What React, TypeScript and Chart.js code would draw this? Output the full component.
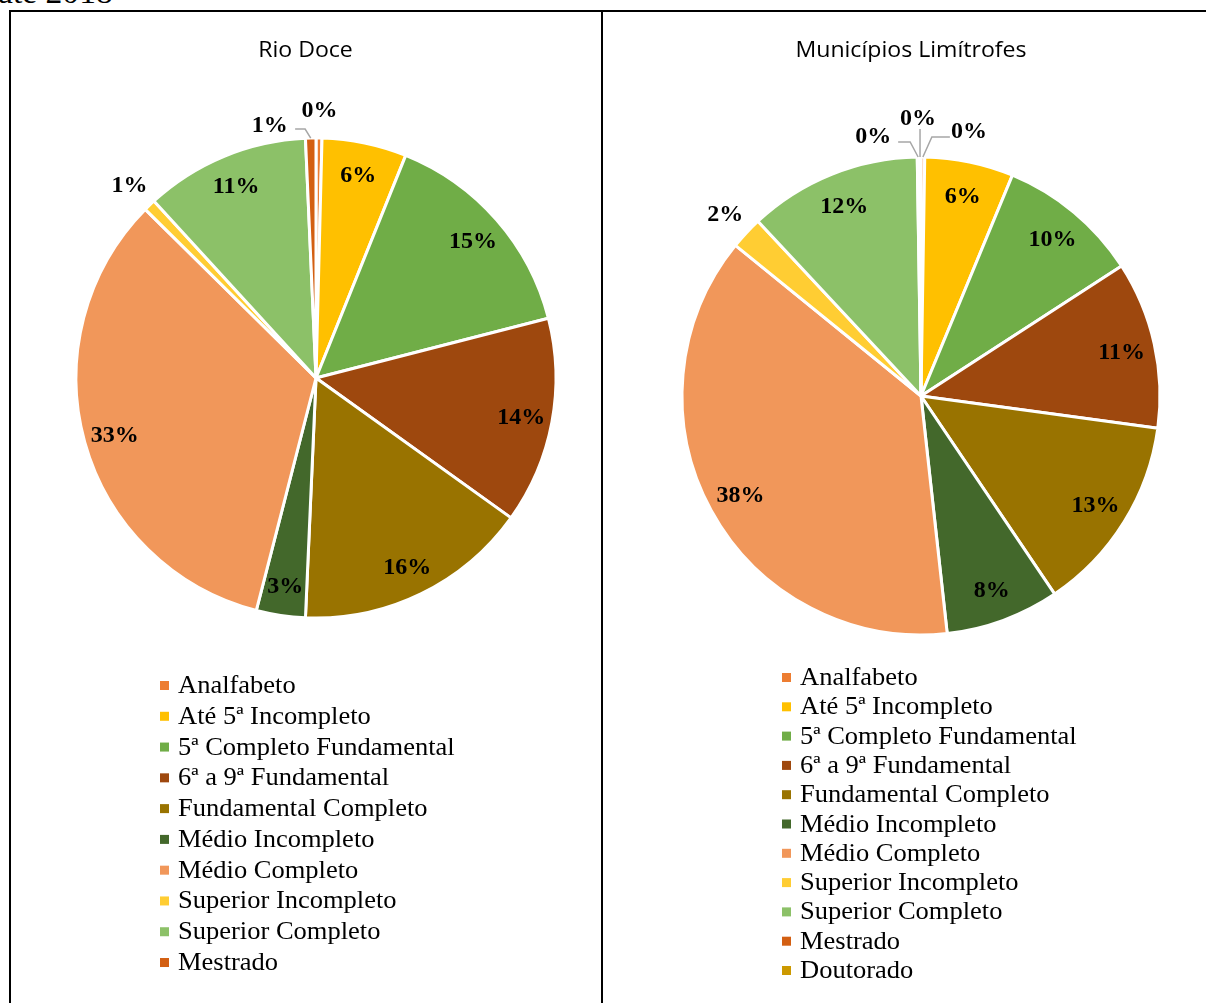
import React, { useEffect, useRef } from 'react';
import { Chart, registerables } from 'chart.js';

Chart.register(...registerables);

// ---------- DATA ----------
const categoriesRioDoce = [
  'Analfabeto',
  'Até 5ª Incompleto',
  '5ª Completo Fundamental',
  '6ª a 9ª Fundamental',
  'Fundamental Completo',
  'Médio Incompleto',
  'Médio Completo',
  'Superior Incompleto',
  'Superior Completo',
  'Mestrado',
];
const categoriesLimitrofes = [...categoriesRioDoce, 'Doutorado'];

const valuesRioDoce = [0.4, 5.7, 14.9, 13.9, 15.8, 3.3, 33.4, 0.8, 11.1, 0.7];
const valuesLimitrofes = [0.25, 6.0, 9.6, 11.3, 13.4, 7.7, 37.6, 2.2, 11.7, 0.12, 0.13];

const titleRioDoce = 'Rio Doce';
const titleLimitrofes = 'Municípios Limítrofes';

const colors = [
  '#ED7D31', '#FFC000', '#70AD47', '#9E480E', '#997300', '#43682B',
  '#F1975A', '#FFCD33', '#8CC168', '#D35F12', '#CC9900',
];

// ---------- STYLE ----------
const TEXT_SX = 1.06;
const LABEL_SX = 1.0;
const LABEL_FONT = 'bold 24px "Liberation Serif"';
const LEGEND_FONT = '25px "Liberation Serif"';
const TITLE_FONT = '22px "Open Sans"';
const BORDER = 3;

type Leader = { label: [number, number]; path: [number, number][] };

function drawScaledText(ctx: CanvasRenderingContext2D, text: string, x: number, y: number, align: CanvasTextAlign, sx: number) {
  ctx.save();
  ctx.translate(x, y);
  ctx.scale(sx, 1);
  ctx.textAlign = align;
  ctx.textBaseline = 'alphabetic';
  ctx.fillText(text, 0, 0);
  ctx.restore();
}

const pieTextPlugin = {
  id: 'pieText',
  afterDatasetsDraw(chart: any, _args: any, opts: any) {
    const ctx: CanvasRenderingContext2D = chart.ctx;
    const meta = chart.getDatasetMeta(0);
    const ds = chart.data.datasets[0];
    const data = ds.data as number[];
    const total = data.reduce((a, b) => a + b, 0);
    ctx.save();
    // title
    ctx.fillStyle = '#000';
    ctx.font = TITLE_FONT;
    drawScaledText(ctx, opts.title, opts.titleX, opts.titleY, 'center', opts.titleSx);

    // data labels
    ctx.font = LABEL_FONT;
    meta.data.forEach((arc: any, i: number) => {
      const p = arc.getProps(['x', 'y', 'startAngle', 'endAngle', 'outerRadius'], true);
      const mid = (p.startAngle + p.endAngle) / 2;
      const cos = Math.cos(mid);
      const sin = Math.sin(mid);
      const pct = Math.round((data[i] / total) * 100) + '%';
      const mode = opts.modes[i];
      let lx: number, ly: number;
      if (mode === 'in') {
        lx = p.x + cos * p.outerRadius * opts.inFactor;
        ly = p.y + sin * p.outerRadius * opts.inFactor;
      } else if (mode === 'out') {
        lx = p.x + cos * p.outerRadius * opts.outFactor;
        ly = p.y + sin * p.outerRadius * opts.outFactor;
      } else {
        const ox = p.x + cos * p.outerRadius;
        const oy = p.y + sin * p.outerRadius;
        const ld: Leader = opts.leaders[i];
        ctx.save();
        ctx.strokeStyle = '#A6A6A6';
        ctx.lineWidth = 1.5;
        ctx.beginPath();
        ctx.moveTo(ox, oy);
        ld.path.forEach(([dx, dy]) => ctx.lineTo(ox + dx, oy + dy));
        ctx.stroke();
        ctx.restore();
        lx = ox + ld.label[0];
        ly = oy + ld.label[1];
      }
      ctx.fillStyle = '#000';
      drawScaledText(ctx, pct, lx, ly + 8, 'center', LABEL_SX);
    });

    // legend
    ctx.font = LEGEND_FONT;
    const labels = chart.data.labels as string[];
    labels.forEach((lab: string, i: number) => {
      const by = opts.legendY + i * opts.legendStep;
      ctx.fillStyle = (ds.backgroundColor as string[])[i];
      ctx.fillRect(opts.legendBoxX, by - 12, 9, 9);
      ctx.fillStyle = '#000';
      drawScaledText(ctx, lab, opts.legendTextX, by, 'left', TEXT_SX);
    });
    ctx.restore();
  },
};

type PieProps = {
  labels: string[];
  values: number[];
  width: number;
  height: number;
  cx: number;
  cy: number;
  r: number;
  textOpts: any;
};

function PiePanel({ labels, values, width, height, cx, cy, r, textOpts }: PieProps) {
  const ref = useRef<HTMLCanvasElement | null>(null);
  useEffect(() => {
    if (!ref.current) return;
    const half = r + BORDER / 2;
    const chart = new Chart(ref.current, {
      type: 'pie',
      data: {
        labels,
        datasets: [
          {
            data: values,
            backgroundColor: colors.slice(0, values.length),
            borderColor: '#FFFFFF',
            borderWidth: BORDER,
          },
        ],
      },
      options: {
        responsive: false,
        maintainAspectRatio: false,
        animation: false,
        layout: {
          padding: {
            left: cx - half,
            top: cy - half,
            right: width - (cx + half),
            bottom: height - (cy + half),
          },
        },
        plugins: {
          legend: { display: false },
          tooltip: { enabled: false },
          title: { display: false },
          pieText: textOpts,
        } as any,
      },
      plugins: [pieTextPlugin as any],
    });
    return () => chart.destroy();
  }, []);
  return <canvas ref={ref} width={width} height={height} style={{ display: 'block', width, height }} />;
}

const rioTextOpts = {
  title: titleRioDoce,
  titleX: 294.5,
  titleY: 45,
  titleSx: 1.05,
  inFactor: 0.87,
  outFactor: 1.12,
  modes: ['out', 'in', 'in', 'in', 'in', 'in', 'in', 'out', 'in', 'leader'],
  leaders: {
    9: { label: [-41, -14], path: [[-5.6, -9], [-15.6, -9]] },
  },
  legendBoxX: 149,
  legendTextX: 167,
  legendY: 681,
  legendStep: 30.78,
};

const limTextOpts = {
  title: titleLimitrofes,
  titleX: 308,
  titleY: 45,
  titleSx: 1.05,
  inFactor: 0.86,
  outFactor: 1.12,
  modes: ['leader', 'in', 'in', 'in', 'in', 'in', 'in', 'out', 'in', 'leader', 'leader'],
  leaders: {
    0: { label: [46, -27], path: [[9, -20], [27, -20]] },
    9: { label: [-45, -22], path: [[-8, -15], [-20, -15]] },
    10: { label: [-2, -40], path: [[0, -28]] },
  },
  legendBoxX: 179,
  legendTextX: 197,
  legendY: 673,
  legendStep: 29.3,
};

export default function App() {
  return (
    <div style={{ position: 'absolute', left: 0, top: 0, width: 1206, height: 1003, overflow: 'hidden', background: '#fff' }}>
      <div
        style={{
          position: 'absolute',
          left: -2,
          top: -24,
          font: '32px "Liberation Serif"',
          lineHeight: '32px',
          whiteSpace: 'nowrap',
          transform: 'scaleX(1.05)',
          transformOrigin: 'left top',
        }}
      >
        até 2018
      </div>
      <div
        style={{
          position: 'absolute',
          left: 9,
          top: 10,
          width: 590,
          height: 1010,
          border: '2px solid #000',
        }}
      />
      <div style={{ position: 'absolute', left: 603, top: 10, width: 603, height: 2, background: '#000' }} />
      <div style={{ position: 'absolute', left: 11, top: 12 }}>
        <PiePanel
          labels={categoriesRioDoce}
          values={valuesRioDoce}
          width={590}
          height={991}
          cx={305}
          cy={366}
          r={240}
          textOpts={rioTextOpts}
        />
      </div>
      <div style={{ position: 'absolute', left: 603, top: 12 }}>
        <PiePanel
          labels={categoriesLimitrofes}
          values={valuesLimitrofes}
          width={603}
          height={991}
          cx={318}
          cy={384}
          r={239}
          textOpts={limTextOpts}
        />
      </div>
    </div>
  );
}
